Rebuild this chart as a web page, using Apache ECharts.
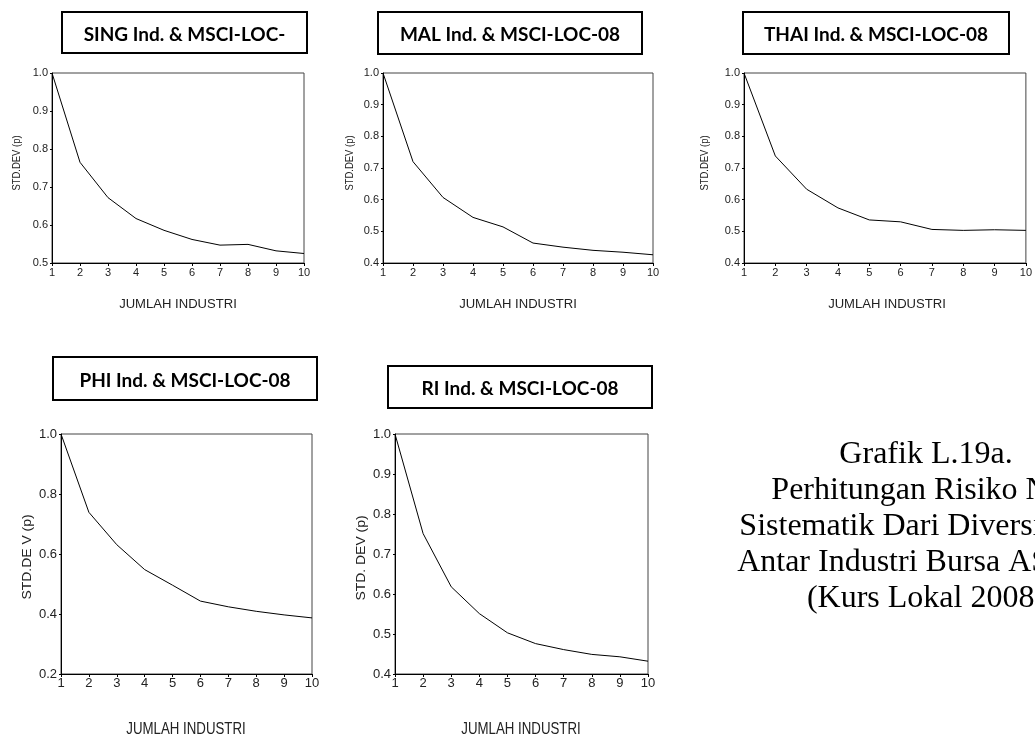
<!DOCTYPE html>
<html>
<head>
<meta charset="utf-8">
<script src="https://cdn.jsdelivr.net/npm/echarts@6/dist/echarts.min.js"></script>
<style>
  html, body { margin: 0; padding: 0; background: #fff; }
  #chart { width: 1035px; height: 736px; }
</style>
</head>
<body>
<div id="chart"></div>
<script>
// Number of industries in the portfolio (x axis)
const jumlahIndustri = [1, 2, 3, 4, 5, 6, 7, 8, 9, 10];

// Portfolio standard deviation ratio per market
const sing = [1.0, 0.765, 0.672, 0.617, 0.586, 0.562, 0.547, 0.549, 0.532, 0.525];
const mal  = [1.0, 0.720, 0.607, 0.544, 0.514, 0.463, 0.450, 0.440, 0.434, 0.426];
const thai = [1.0, 0.738, 0.633, 0.574, 0.536, 0.530, 0.506, 0.503, 0.505, 0.503];
const phi  = [1.0, 0.739, 0.631, 0.548, 0.496, 0.443, 0.424, 0.409, 0.397, 0.387];
const ri   = [1.0, 0.751, 0.618, 0.551, 0.503, 0.476, 0.461, 0.449, 0.443, 0.432];

const panelTitles = [
  'SING Ind. & MSCI-LOC-',
  'MAL Ind. & MSCI-LOC-08',
  'THAI Ind. & MSCI-LOC-08',
  'PHI Ind. & MSCI-LOC-08',
  'RI Ind. & MSCI-LOC-08'
];
const yNames = ['STD.DEV (p)', 'STD.DEV (p)', 'STD.DEV (p)', 'STD.DE V (p)', 'STD. DEV (p)'];
const xName = 'JUMLAH INDUSTRI';
const yMin = [0.5, 0.4, 0.4, 0.2, 0.4];
const yStep = [0.1, 0.1, 0.1, 0.2, 0.1];

const captionLines = [
  'Grafik L.19a.',
  'Perhitungan Risiko Non',
  'Sistematik Dari Diversifikasi',
  'Antar Industri Bursa ASEAN',
  '(Kurs Lokal 2008)'
];

const seriesData = [sing, mal, thai, phi, ri];

// text styles for the two panel rows (the lower row uses a taller, condensed look)
const topRow = {
  tick: 11, margin: 4,
  xName: { size: 12, sx: 1.09, sy: 1 },
  yName: { size: 11, sx: 0.86, sy: 1 }
};
const bottomRow = {
  tick: 13, margin: 3,
  xName: { size: 17, sx: 0.78, sy: 1 },
  yName: { size: 17, sx: 0.82, sy: 0.8 }
};

// panel geometry
const panels = [
  { left: 52,  top: 73,  width: 252, height: 190, row: topRow,    box: [62, 12, 245, 41],  xNamePos: [178, 305], yNamePos: [17, 163] },
  { left: 383, top: 73,  width: 270, height: 190, row: topRow,    box: [378, 12, 264, 42], xNamePos: [518, 305], yNamePos: [350, 163] },
  { left: 744, top: 73,  width: 287, height: 190, row: topRow,    box: [743, 12, 266, 42], xNamePos: [887, 305], yNamePos: [705, 163] },
  { left: 61,  top: 434, width: 251, height: 240, row: bottomRow, box: [53, 357, 264, 43], xNamePos: [186, 729], yNamePos: [27, 557] },
  { left: 395, top: 434, width: 253, height: 240, row: bottomRow, box: [388, 366, 264, 42], xNamePos: [521, 729], yNamePos: [361, 558] }
];

const sansFont = 'Liberation Sans, Arial, sans-serif';

const grid = [], xAxis = [], yAxis = [], series = [], graphic = [];

panels.forEach((p, i) => {
  const r = p.row;
  grid.push({
    left: p.left, top: p.top, width: p.width, height: p.height,
    show: true, borderColor: '#444', borderWidth: 1, backgroundColor: 'transparent'
  });
  xAxis.push({
    gridIndex: i, type: 'value', min: 1, max: 10, interval: 1,
    axisLine: { show: true, lineStyle: { color: '#000', width: 1 } },
    axisTick: { show: true, length: 3, lineStyle: { color: '#000' } },
    axisLabel: { fontFamily: sansFont, fontSize: r.tick, color: '#222', margin: r.margin },
    splitLine: { show: false }
  });
  yAxis.push({
    gridIndex: i, type: 'value', min: yMin[i], max: 1.0, interval: yStep[i],
    axisLine: { show: true, lineStyle: { color: '#000', width: 1 } },
    axisTick: { show: true, length: 2, lineStyle: { color: '#000' } },
    axisLabel: {
      fontFamily: sansFont, fontSize: r.tick, color: '#222', margin: 4,
      formatter: v => v.toFixed(1)
    },
    splitLine: { show: false }
  });
  series.push({
    type: 'line', xAxisIndex: i, yAxisIndex: i,
    data: jumlahIndustri.map((x, k) => [x, seriesData[i][k]]),
    showSymbol: false, symbol: 'none', smooth: false,
    lineStyle: { color: '#000', width: 1 },
    silent: true
  });

  // axis titles
  graphic.push({
    type: 'text', x: p.xNamePos[0], y: p.xNamePos[1],
    scaleX: r.xName.sx, scaleY: r.xName.sy,
    style: {
      text: xName, fill: '#222',
      font: r.xName.size + 'px ' + sansFont,
      textAlign: 'center', textVerticalAlign: 'middle'
    }
  });
  graphic.push({
    type: 'text', x: p.yNamePos[0], y: p.yNamePos[1],
    rotation: Math.PI / 2,
    scaleX: r.yName.sx, scaleY: r.yName.sy,
    style: {
      text: yNames[i], fill: '#222',
      font: r.yName.size + 'px ' + sansFont,
      textAlign: 'center', textVerticalAlign: 'middle'
    }
  });

  // boxed panel title
  const [bx, by, bw, bh] = p.box;
  graphic.push({
    type: 'rect', shape: { x: bx, y: by, width: bw, height: bh },
    style: { fill: '#fff', stroke: '#000', lineWidth: 2 }
  });
  graphic.push({
    type: 'text', x: bx + bw / 2, y: by + bh / 2 + 2,
    style: {
      text: panelTitles[i], fill: '#000',
      font: 'bold 19px Lato, "Open Sans", sans-serif',
      textAlign: 'center', textVerticalAlign: 'middle'
    }
  });
});

// caption block on the right
captionLines.forEach((line, k) => {
  graphic.push({
    type: 'text', x: 926, y: 455 + k * 36,
    style: {
      text: line, fill: '#000',
      font: '32px "Liberation Serif", "Times New Roman", serif',
      textAlign: 'center', textVerticalAlign: 'middle'
    }
  });
});

const chart = echarts.init(document.getElementById('chart'), null, { renderer: 'canvas' });
chart.setOption({
  animation: false,
  backgroundColor: '#fff',
  grid, xAxis, yAxis, series, graphic
});
</script>
</body>
</html>
